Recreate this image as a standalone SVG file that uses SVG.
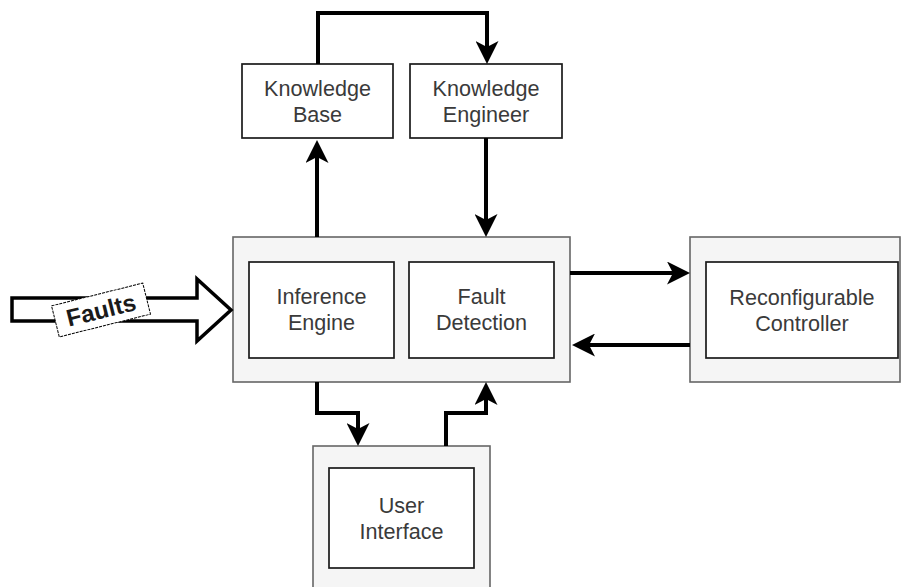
<svg xmlns="http://www.w3.org/2000/svg" width="901" height="587" viewBox="0 0 901 587">
<style>
.outer{fill:#f5f5f5;stroke:#666666;stroke-width:1.6}
.box{fill:#ffffff;stroke:#1a1a1a;stroke-width:1.7}
.lbl{font-family:"Liberation Sans",Arial,sans-serif;font-size:21.6px;fill:#3a3a3a;text-anchor:middle}
.conn{fill:none;stroke:#000000;stroke-width:4}
</style>
<defs>
<marker id="arr" markerUnits="userSpaceOnUse" viewBox="0 0 23 23" refX="6" refY="11.5" markerWidth="23" markerHeight="23" orient="auto">
<path d="M23,11.5 L0,0 L6,11.5 L0,23 Z" fill="#000000"/>
</marker>
</defs>
<rect width="901" height="587" fill="#ffffff"/>

<g id="main-container">
<rect class="outer" x="233" y="237" width="337" height="145"/>
</g>
<g id="controller-container">
<rect class="outer" x="690" y="237" width="210" height="145"/>
</g>
<g id="ui-container">
<rect class="outer" x="313" y="446" width="177" height="150"/>
</g>

<g id="knowledge-base">
<rect class="box" x="242" y="64" width="151" height="74"/>
<text class="lbl" x="317.5" y="96">Knowledge</text>
<text class="lbl" x="317.5" y="122">Base</text>
</g>
<g id="knowledge-engineer">
<rect class="box" x="410" y="64" width="152" height="74"/>
<text class="lbl" x="486" y="96">Knowledge</text>
<text class="lbl" x="486" y="122">Engineer</text>
</g>
<g id="inference-engine">
<rect class="box" x="249" y="262" width="145" height="96"/>
<text class="lbl" x="321.5" y="304">Inference</text>
<text class="lbl" x="321.5" y="330">Engine</text>
</g>
<g id="fault-detection">
<rect class="box" x="409" y="262" width="145" height="96"/>
<text class="lbl" x="481.5" y="304">Fault</text>
<text class="lbl" x="481.5" y="330">Detection</text>
</g>
<g id="reconfigurable-controller">
<rect class="box" x="706" y="262" width="192" height="96"/>
<text class="lbl" x="802" y="305">Reconfigurable</text>
<text class="lbl" x="802" y="331">Controller</text>
</g>
<g id="user-interface">
<rect class="box" x="329" y="468" width="145" height="100"/>
<text class="lbl" x="401.5" y="513">User</text>
<text class="lbl" x="401.5" y="539">Interface</text>
</g>

<g id="faults-arrow">
<polygon points="12,298 197,298 197,279 231,310 197,341 197,321 12,321" fill="#ffffff" stroke="#000000" stroke-width="3.5" stroke-linejoin="miter"/>
<g transform="translate(101,310) rotate(-14)">
<rect x="-47" y="-16" width="94" height="32" fill="#ffffff" stroke="#000000" stroke-width="1" stroke-dasharray="3,1"/>
<text x="0" y="8.5" font-family="'Liberation Sans',Arial,sans-serif" font-size="24px" font-weight="bold" fill="#1a1a1a" text-anchor="middle">Faults</text>
</g>
</g>

<g id="connectors">
<path class="conn" d="M318,64 L318,13 L487,13 L487,47" marker-end="url(#arr)"/>
<path class="conn" d="M317,237 L317,157" marker-end="url(#arr)"/>
<path class="conn" d="M486,138 L486,220" marker-end="url(#arr)"/>
<path class="conn" d="M570,273 L673,273" marker-end="url(#arr)"/>
<path class="conn" d="M690,345 L589,345" marker-end="url(#arr)"/>
<path class="conn" d="M317,382 L317,413 L358,413 L358,429" marker-end="url(#arr)"/>
<path class="conn" d="M446,446 L446,413 L486,413 L486,399" marker-end="url(#arr)"/>
</g>
</svg>
